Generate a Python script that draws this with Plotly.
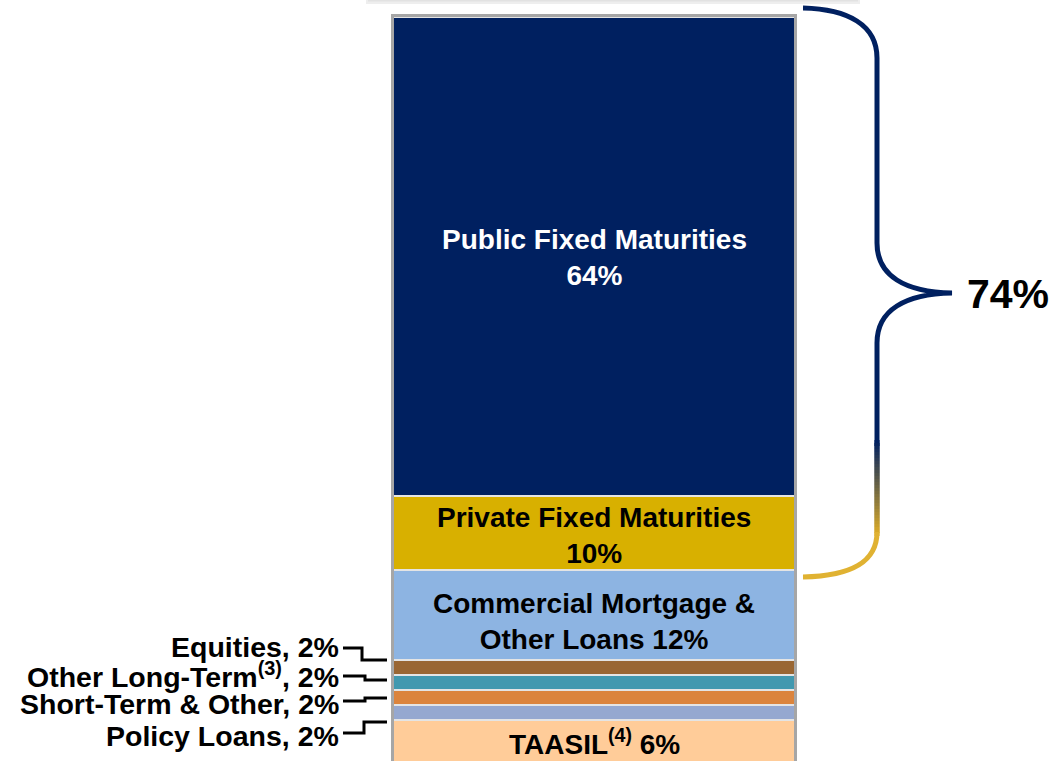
import plotly.graph_objects as go

# ---------------- data ----------------
segments = ["TAASIL", "Policy Loans", "Short-Term & Other", "Other Long-Term",
            "Equities", "Commercial Mortgage & Other Loans",
            "Private Fixed Maturities", "Public Fixed Maturities"]
values = [6, 2, 2, 2, 2, 12, 10, 64]
colors = ["#FFCC99", "#95A8D0", "#DB843D", "#4198AF", "#996633",
          "#8DB4E2", "#D8B000", "#002060"]
inside_labels = {
    "TAASIL": "TAASIL<sup>(4)</sup> 6%",
    "Commercial Mortgage & Other Loans": "Commercial Mortgage &amp;<br>Other Loans 12%",
    "Private Fixed Maturities": "Private Fixed Maturities<br>10%",
    "Public Fixed Maturities": "Public Fixed Maturities<br>64%",
}
outside_labels = {
    "Equities": "Equities, 2%",
    "Other Long-Term": "Other Long-Term<sup>(3)</sup>, 2%",
    "Short-Term & Other": "Short-Term &amp; Other, 2%",
    "Policy Loans": "Policy Loans, 2%",
}
bracket_total = "74%"
category = ["Investments"]

# ---------------- geometry helpers ----------------
W, H = 1055, 761
TOP, BOTTOM = 17, 0
PLOT_H = H - TOP - BOTTOM
FONT = "Liberation Sans, Arial, sans-serif"


def xp(px):
    return px / W


def yp(py):
    return (H - BOTTOM - py) / PLOT_H


def path(cmds):
    out = []
    for c in cmds:
        op, pts = c[0], c[1:]
        coords = " ".join(f"{xp(pts[i]):.5f},{yp(pts[i + 1]):.5f}" for i in range(0, len(pts), 2))
        out.append(f"{op}{coords}")
    return " ".join(out)


fig = go.Figure()
for name, v, col in zip(segments, values, colors):
    fig.add_trace(go.Bar(
        x=category, y=[v], name=name,
        marker=dict(color=col, line=dict(color="#E4E4E4", width=2)),
        hoverinfo="name+y",
    ))

label_shift = {"Commercial Mortgage & Other Loans": -6, "Private Fixed Maturities": -2,
               "TAASIL": 1, "Public Fixed Maturities": -1}

annotations = []
cum = 0
for name, v in zip(segments, values):
    mid = cum + v / 2
    cum += v
    if name in inside_labels:
        annotations.append(dict(
            x=category[0], y=mid, xref="x", yref="y", showarrow=False,
            text=inside_labels[name], align="center", yshift=label_shift.get(name, 0),
            font=dict(family=FONT, size=28, weight="bold",
                      color="white" if name == "Public Fixed Maturities" else "black"),
        ))

# left-side labels with connectors
left = [("Equities", 647, 648, 362, 660),
        ("Other Long-Term", 675, 676, 365, 680),
        ("Short-Term & Other", 704, 701, 365, 698),
        ("Policy Loans", 736, 733, 364, 722)]
shapes = []
for name, ty, ly, kx, ey in left:
    annotations.append(dict(
        x=xp(341), y=yp(ty), xref="paper", yref="paper", xanchor="right", yanchor="middle",
        showarrow=False, text=outside_labels[name],
        font=dict(family=FONT, size=28.5, weight="bold", color="black"),
    ))
    shapes.append(dict(type="path", xref="paper", yref="paper",
                       path=path([("M", 343, ly), ("L", kx, ly), ("L", kx, ey), ("L", 387, ey)]),
                       line=dict(color="black", width=3)))

annotations.append(dict(
    x=xp(965), y=yp(294), xref="paper", yref="paper", xanchor="left", yanchor="middle",
    showarrow=False, text=bracket_total,
    font=dict(family=FONT, size=41, weight="bold", color="black"),
))

# outer bar border
shapes.append(dict(type="rect", xref="paper", yref="paper",
                   x0=xp(392.5), x1=xp(795.5), y0=yp(775), y1=yp(15.5),
                   line=dict(color="#A6A6A6", width=3), fillcolor="rgba(0,0,0,0)"))

# top shadow of a box above
shapes.append(dict(type="rect", xref="paper", yref="paper",
                   x0=xp(366), x1=xp(860), y0=yp(4), y1=yp(-5),
                   line=dict(width=0), fillcolor="#EEEEEE"))
shapes.append(dict(type="rect", xref="paper", yref="paper",
                   x0=xp(368), x1=xp(858), y0=yp(1.5), y1=yp(-5),
                   line=dict(width=0), fillcolor="#E2E2E2"))

# curly brace (navy with gradient into gold at bottom)
navy = (0, 32, 96)
gold = (220, 172, 40)
BW = 5
shapes.append(dict(type="path", xref="paper", yref="paper",
                   path=path([("M", 803, 8), ("C", 848, 9, 877, 25, 877, 58),
                              ("L", 877, 243), ("C", 877, 276, 905, 292, 952, 293),
                              ("C", 905, 294, 877, 310, 877, 343), ("L", 877, 446)]),
                   line=dict(color="rgb(0,32,96)", width=BW)))
g0, g1, step = 440, 532, 3
y = g0
while y < g1:
    t = (y - g0) / (g1 - g0)
    c = tuple(int(navy[i] + (gold[i] - navy[i]) * t) for i in range(3))
    shapes.append(dict(type="line", xref="paper", yref="paper",
                       x0=xp(877), x1=xp(877), y0=yp(y), y1=yp(y + step + 3),
                       line=dict(color=f"rgb{c}", width=BW)))
    y += step
shapes.append(dict(type="path", xref="paper", yref="paper",
                   path=path([("M", 877, 532), ("C", 877, 563, 850, 576, 803, 577)]),
                   line=dict(color="#E0B232", width=BW)))

fig.update_layout(
    width=W, height=H, barmode="stack", bargap=0, showlegend=False,
    margin=dict(l=0, r=0, t=TOP, b=BOTTOM, pad=0),
    paper_bgcolor="white", plot_bgcolor="white",
    xaxis=dict(domain=[xp(393), xp(795)], range=[-0.5, 0.5], visible=False, fixedrange=True),
    yaxis=dict(range=[0.53, 100], visible=False, fixedrange=True),
    annotations=annotations, shapes=shapes,
)

fig.write_html("out.html", config={"displayModeBar": False},
               post_script="document.body.style.margin='0';document.body.style.overflow='hidden';")
